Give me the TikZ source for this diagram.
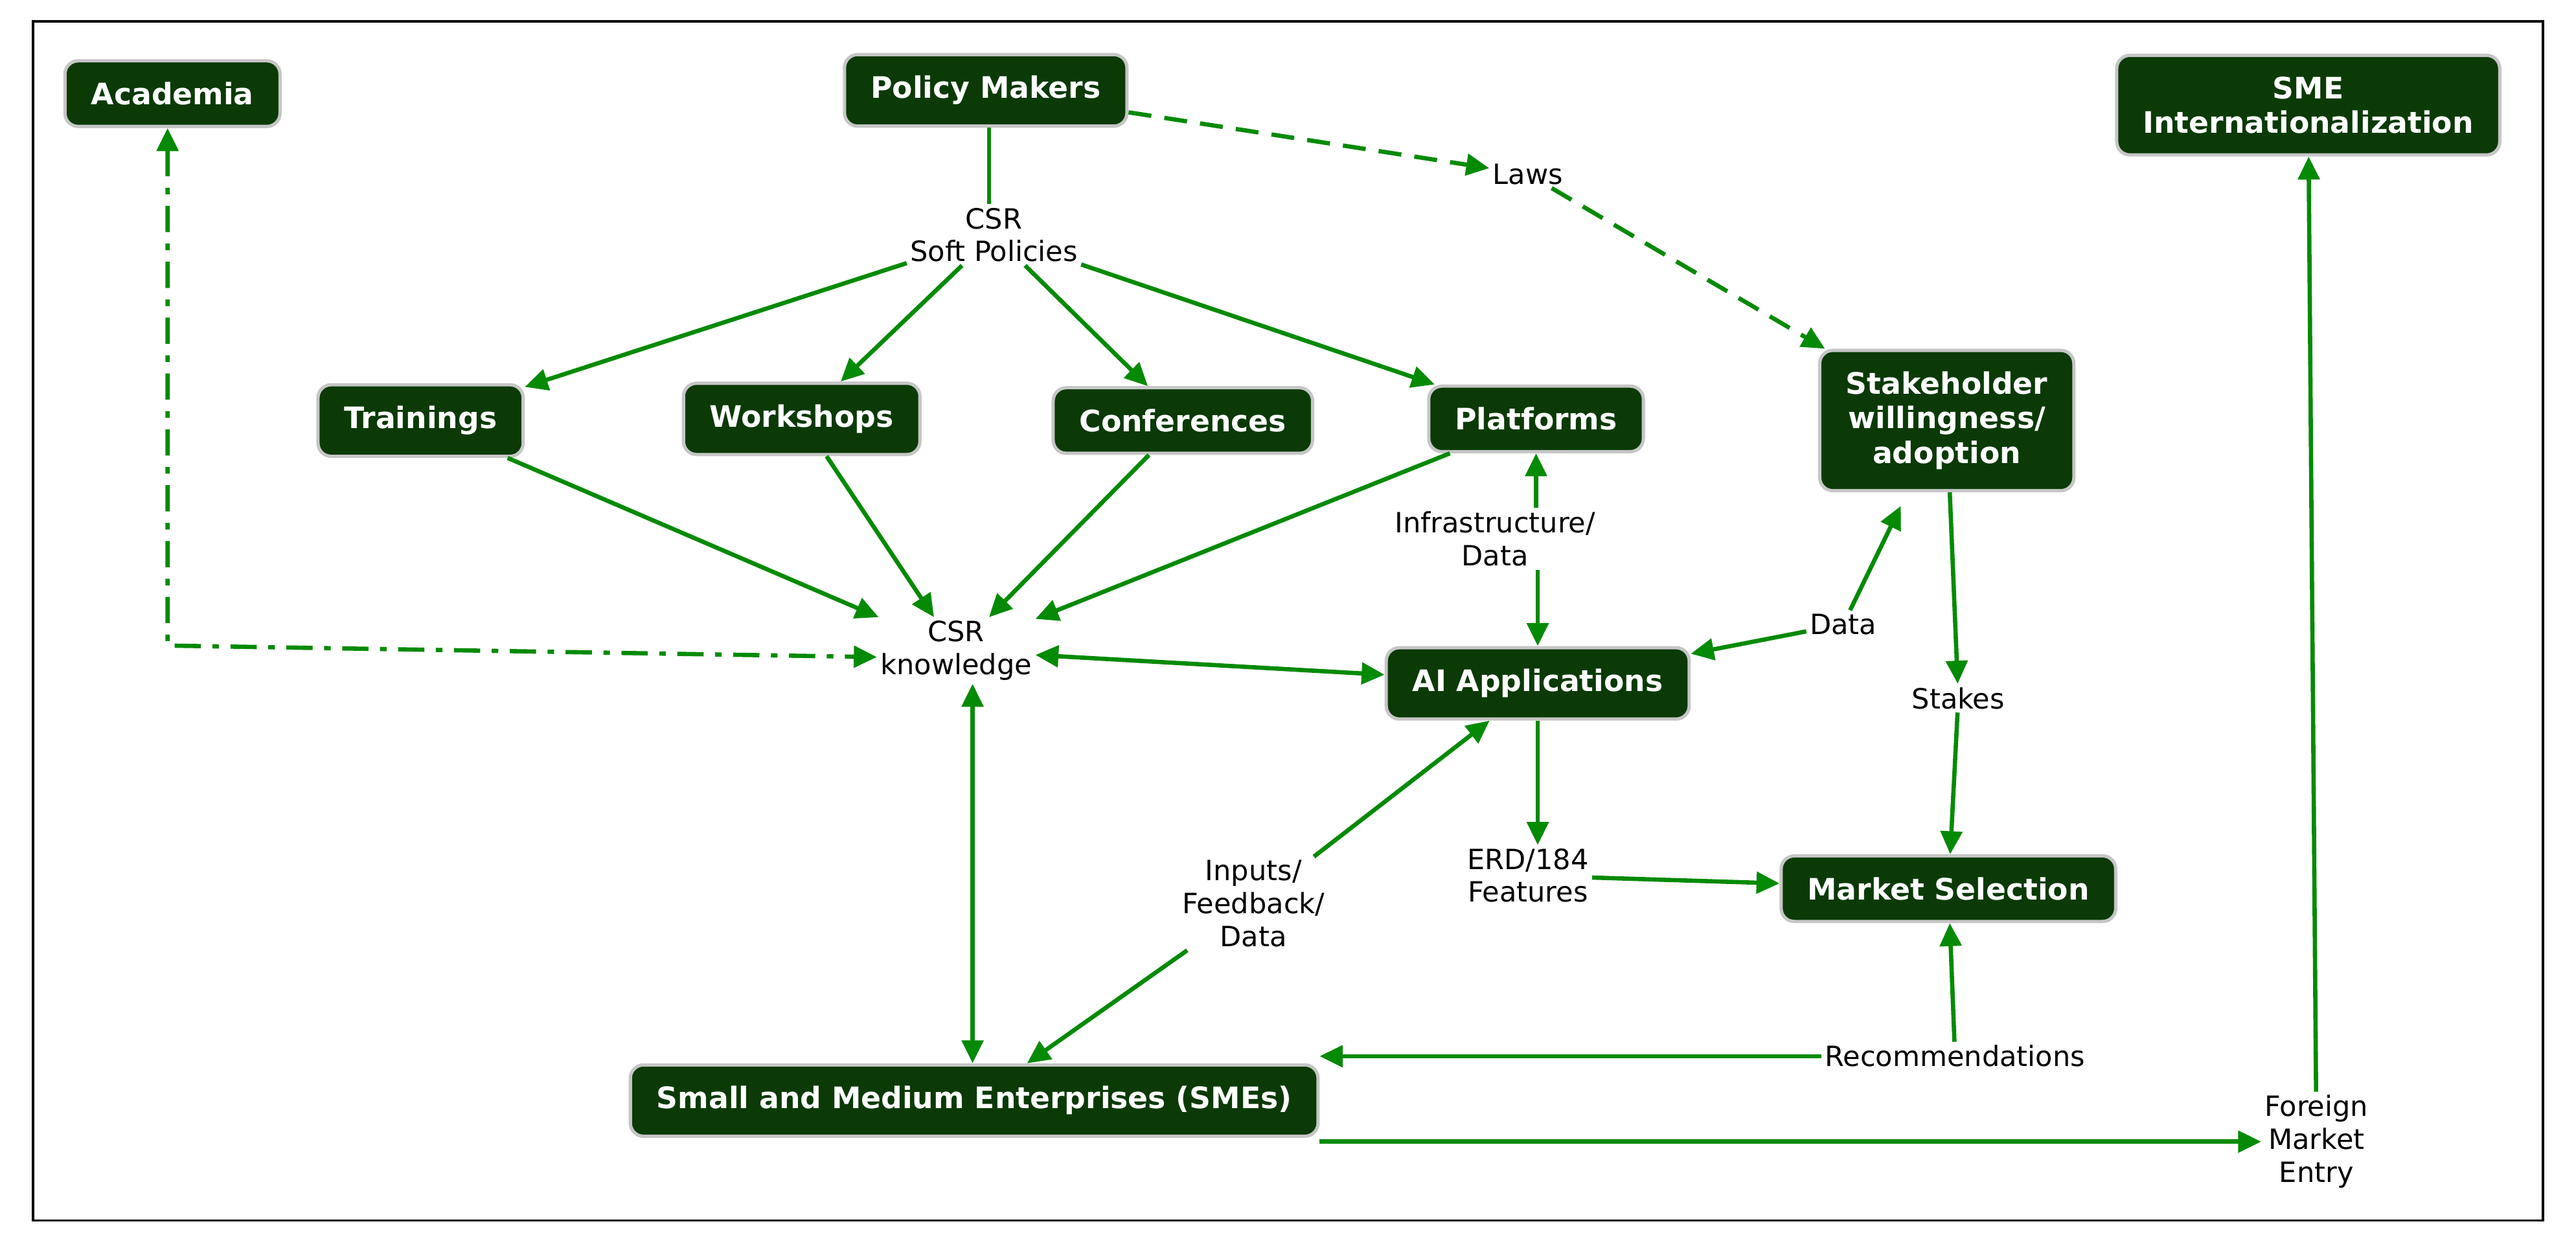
\documentclass[tikz,border=0pt]{standalone}
\usepackage{fontspec}
\setmainfont{DejaVu Sans}
\usetikzlibrary{arrows.meta}
\definecolor{nodegreen}{HTML}{0B3A06}
\definecolor{arrowgreen}{HTML}{058A05}
\begin{document}
\begin{tikzpicture}[x=1pt,y=-1pt,
  box/.style={fill=nodegreen,draw=gray!45,line width=2pt,rounded corners=8pt,text=white,font=\fontsize{18}{21}\selectfont\bfseries,align=center,inner xsep=16pt,inner ysep=13pt},
  lab/.style={font=\fontsize{17}{20}\selectfont,align=center,inner sep=2pt},
  arr/.style={draw=arrowgreen,line width=2.6pt,-{Triangle[length=14pt,width=13pt]}},
  darr/.style={arr,{Triangle[length=14pt,width=13pt]}-{Triangle[length=14pt,width=13pt]}},
  ln/.style={draw=arrowgreen,line width=2.6pt}]
\useasboundingbox (0,0) rectangle (1568,753);
\draw[line width=1.5pt] (20,13) rectangle (1548,743);
\node[box] (acad) at (105,57) {Academia};
\node[box] (pm) at (600,55) {Policy Makers};
\node[box] (smei) at (1405,64) {SME\\Internationalization};
\node[lab] (laws) at (930,106) {Laws};
\node[lab] (csp) at (605,143) {CSR\\Soft Policies};
\node[box] (tr) at (256,256) {Trainings};
\node[box] (ws) at (488,255) {Workshops};
\node[box] (conf) at (720,256) {Conferences};
\node[box] (plat) at (935,255) {Platforms};
\node[box] (stake) at (1185,256) {Stakeholder\\willingness/\\adoption};
\node[lab] (know) at (582,396) {CSR\\knowledge};
\node[box] (ai) at (936,416) {AI Applications};
\node[lab] (infra) at (910,328) {Infrastructure/\\Data};
\node[lab] (data) at (1122,380) {Data};
\node[lab] (stakes) at (1192,425) {Stakes};
\node[lab] (erd) at (930,533) {ERD/184\\Features};
\node[box] (ms) at (1186,541) {Market Selection};
\node[lab] (inp) at (763,550) {Inputs/\\Feedback/\\Data};
\node[lab] (rec) at (1190,643) {Recommendations};
\node[box] (sme) at (593,670) {Small and Medium Enterprises (SMEs)};
\node[lab] (fme) at (1410,695) {Foreign\\Market\\Entry};
\coordinate (ac1) at (102,393);
\coordinate (stk) at (1157,308);
% edges
\draw[ln] (pm.south -| 602,0) -- (csp.north -| 602,0);
\draw[arr] (csp) -- (tr);
\draw[arr] (csp) -- (ws);
\draw[arr] (csp) -- (conf);
\draw[arr] (csp) -- (plat);
\draw[arr,dash pattern=on 14pt off 8pt] (pm) -- (laws);
\draw[arr,dash pattern=on 14pt off 8pt] (laws) -- (stake);
\draw[darr,dash pattern=on 16pt off 7pt on 4pt off 7pt] (acad.south -| ac1) -- (ac1) -- (know.west |- 0,400);
\draw[arr] (tr) -- (know);
\draw[arr] (ws) -- (know);
\draw[arr] (conf) -- (know);
\draw[arr] (plat) -- (know);
\draw[darr] (know) -- (ai);
\draw[darr] (know.south -| 592,0) -- (sme.north -| 592,0);
\draw[arr] (infra.north -| plat) -- (plat);
\draw[arr] (infra.south -| ai) -- (ai);
\draw[arr] (data) -- (stk);
\draw[arr] (data) -- (ai);
\draw[arr] (stake) -- (stakes);
\draw[arr] (stakes) -- (ms);
\draw[arr] (ai) -- (erd.north -| ai);
\draw[arr] (erd) -- (ms);
\draw[arr] (inp) -- (ai);
\draw[arr] (inp) -- (sme);
\draw[arr] (rec) -- (ms);
\draw[arr] (rec) -- (sme.east |- rec);
\draw[arr] (sme.south east |- 0,695) -- (fme.west |- 0,695);
\draw[arr] (fme) -- (smei);
\end{tikzpicture}
\end{document}
